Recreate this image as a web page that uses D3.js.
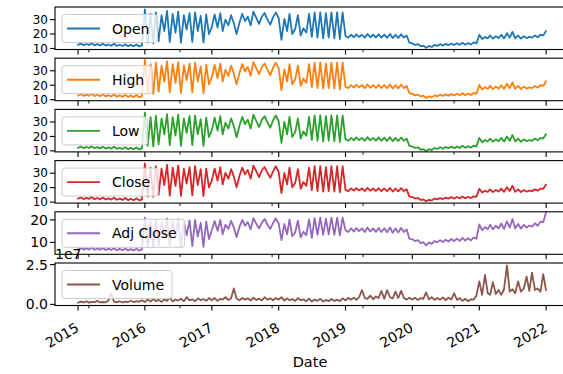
<!DOCTYPE html>
<html><head><meta charset="utf-8">
<script src="https://cdn.jsdelivr.net/npm/d3@7"></script>
<style>html,body{margin:0;padding:0;background:#fff;} svg{display:block;font-family:"DejaVu Sans",sans-serif;}</style>
</head><body><svg id="chart" width="563" height="374"></svg>
<script>
// ---- data (semi-monthly readings: 1st and 16th of each month, plus 2021-12-31) ----
const years = [2015, 2016, 2017, 2018, 2019, 2020, 2021];
const yearTicks = ["2015-01-01","2016-01-01","2017-01-01","2018-01-01","2019-01-01","2020-01-01","2021-01-01","2022-01-01"];
const yearLabels = ["2015","2016","2017","2018","2019","2020","2021","2022"];
const minorTicks = ["2015-03-01","2016-07-11","2017-11-26","2019-04-07","2020-08-16"];
const seriesNames = ["Open","High","Low","Close","Adj Close","Volume"];
const colors = ["#1f77b4","#ff7f0e","#2ca02c","#d62728","#9467bd","#8c564b"];

const open = [
12.6,13.4,12.3,13.1,12.4,13.7,12.2,13.0,12.1,13.3,12.0,12.8,11.9,13.2,11.8,12.6,11.7,13.0,11.6,12.5,11.5,12.8,11.4,12.1,
37.0,14.0,34.0,13.5,35.0,15.0,33.0,22.0,36.0,14.5,34.0,21.0,35.5,14.0,33.0,23.0,34.5,14.5,35.0,22.0,32.5,14.0,33.5,20.0,
25.0,33.5,24.5,34.5,22.0,30.0,26.0,33.0,27.5,20.0,28.0,34.0,29.0,32.0,26.0,35.5,31.0,27.0,32.0,34.5,30.0,26.5,31.5,35.0,
31.0,16.0,30.5,22.0,34.0,20.0,23.5,33.0,19.0,24.0,21.0,34.0,18.0,35.0,17.5,35.0,17.0,34.5,17.5,35.0,17.0,35.0,16.5,35.0,
18.5,17.5,19.5,17.8,19.8,18.0,19.5,17.5,20.0,17.8,19.5,17.6,19.8,17.5,19.6,17.4,20.0,17.2,19.5,17.3,19.8,17.5,19.0,14.0,
13.5,12.5,13.0,11.5,12.0,10.5,11.8,11.0,12.5,11.8,13.0,12.0,13.2,12.3,13.5,12.4,13.6,12.5,14.0,12.6,13.8,12.7,14.2,13.5,
19.5,16.5,18.0,17.0,19.0,16.8,18.5,17.2,19.5,17.0,20.5,17.5,21.5,17.0,19.0,16.8,18.5,17.2,18.0,17.5,19.0,17.8,19.5,19.0,22.0];
const high = [
12.9,13.8,12.6,13.5,12.7,14.1,12.5,13.4,12.4,13.7,12.3,13.2,12.2,13.6,12.1,13.0,12.0,13.4,11.9,12.9,11.8,13.2,11.7,12.5,
37.5,14.6,34.6,14.0,35.6,15.6,33.6,22.6,36.6,15.0,34.6,21.6,36.0,14.6,33.6,23.6,35.0,15.0,35.6,22.6,33.0,14.6,34.0,20.6,
25.6,34.0,25.0,35.0,22.6,30.6,26.6,33.6,28.0,20.6,28.6,34.6,29.6,32.6,26.6,36.0,31.6,27.6,32.6,35.0,30.6,27.0,32.0,35.6,
31.6,16.6,31.0,22.6,34.6,20.6,24.0,33.6,19.6,24.6,21.6,34.6,18.6,35.6,18.0,35.6,17.6,35.0,18.0,35.6,17.6,35.6,17.0,35.6,
19.0,18.0,20.0,18.3,20.3,18.5,20.0,18.0,20.5,18.3,20.0,18.1,20.3,18.0,20.1,17.9,20.5,17.7,20.0,17.8,20.3,18.0,19.5,14.5,
14.0,13.0,13.5,12.2,12.8,11.2,12.4,11.6,13.0,12.3,13.5,12.5,13.7,12.8,14.0,12.9,14.1,13.0,14.5,13.1,14.3,13.2,14.7,14.0,
20.2,17.0,18.6,17.5,19.6,17.3,19.0,17.7,20.0,17.5,21.0,18.0,22.0,17.5,19.5,17.3,19.0,17.7,18.5,18.0,19.5,18.3,20.0,19.5,22.6];
const low = [
12.2,13.0,11.9,12.7,12.0,13.2,11.8,12.6,11.7,12.9,11.6,12.4,11.5,12.8,11.4,12.2,11.3,12.6,11.2,12.1,11.1,12.4,11.0,11.7,
36.4,13.5,33.4,13.0,34.4,14.5,32.4,21.5,35.4,14.0,33.4,20.5,35.0,13.5,32.4,22.5,34.0,14.0,34.4,21.5,32.0,13.5,33.0,19.5,
24.5,33.0,24.0,34.0,21.5,29.5,25.5,32.5,27.0,19.5,27.5,33.5,28.5,31.5,25.5,35.0,30.5,26.5,31.5,34.0,29.5,26.0,31.0,34.5,
30.5,15.5,30.0,21.5,33.5,19.5,23.0,32.5,18.5,23.5,20.5,33.5,17.5,34.5,17.0,34.5,16.5,34.0,17.0,34.5,16.5,34.5,16.0,34.5,
18.0,17.0,19.0,17.3,19.3,17.5,19.0,17.0,19.5,17.3,19.0,17.1,19.3,17.0,19.1,16.9,19.5,16.7,19.0,16.8,19.3,17.0,18.5,13.5,
13.0,12.0,12.5,10.8,11.2,9.9,11.2,10.5,12.0,11.3,12.5,11.5,12.7,11.8,13.0,11.9,13.1,12.0,13.5,12.1,13.3,12.2,13.7,13.0,
19.0,16.0,17.5,16.5,18.5,16.3,18.0,16.7,19.0,16.5,20.0,17.0,21.0,16.5,18.5,16.3,18.0,16.7,17.5,17.0,18.5,17.3,19.0,18.5,21.5];
const close = [
12.4,13.2,12.1,12.9,12.2,13.5,12.0,12.8,11.9,13.1,11.8,12.6,11.7,13.0,11.6,12.4,11.5,12.8,11.4,12.3,11.3,12.6,11.2,11.9,
36.8,13.8,33.8,13.6,34.8,15.2,33.2,21.8,35.8,14.4,33.8,21.2,35.2,14.2,33.2,22.8,34.2,14.6,34.8,21.8,32.8,14.2,33.2,20.2,
25.2,33.2,24.8,34.2,22.2,30.2,26.2,32.8,27.6,20.2,28.2,33.8,29.2,32.2,26.2,35.2,31.2,27.2,32.2,34.2,30.2,26.8,31.2,34.8,
30.8,16.2,30.2,22.2,33.8,20.2,23.2,32.8,19.2,23.8,21.2,33.8,18.2,34.8,17.6,34.8,17.2,34.2,17.6,34.8,17.2,34.8,16.8,34.8,
18.4,17.6,19.4,17.9,19.6,18.1,19.4,17.6,19.8,17.9,19.4,17.7,19.6,17.6,19.5,17.5,19.8,17.3,19.4,17.4,19.6,17.6,18.8,13.8,
13.4,12.6,12.8,11.4,11.8,10.6,11.6,11.1,12.4,11.9,12.8,12.1,13.1,12.4,13.4,12.5,13.5,12.6,13.8,12.7,13.7,12.8,14.0,13.6,
19.2,16.6,17.8,17.1,18.8,16.9,18.4,17.3,19.3,17.1,20.3,17.6,21.3,17.1,18.8,16.9,18.3,17.3,17.9,17.6,18.8,17.9,19.3,19.2,22.0];
const adjClose = [
6.9,7.5,6.8,7.4,6.8,7.7,6.7,7.3,6.7,7.5,6.6,7.2,6.6,7.4,6.5,7.1,6.5,7.3,6.4,7.0,6.4,7.2,6.3,6.9,
21.0,8.0,19.5,7.8,20.0,8.6,19.0,12.6,20.6,8.3,19.5,12.0,20.2,8.0,19.0,13.2,19.8,8.3,20.0,12.6,18.7,8.0,19.2,11.5,
15.5,19.5,15.2,20.0,13.6,17.8,16.0,19.6,16.6,12.4,17.0,20.0,17.4,19.0,15.8,20.8,18.2,16.2,18.8,20.4,17.8,16.0,18.6,20.6,
18.4,11.0,18.2,13.6,20.2,12.7,14.4,19.7,12.2,14.7,13.2,20.2,12.0,20.8,13.4,21.0,13.3,20.6,13.6,21.0,13.3,21.0,13.0,21.0,
15.4,14.6,16.2,14.8,16.4,15.0,16.2,14.6,16.6,14.8,16.2,14.7,16.4,14.6,16.3,14.5,16.6,14.3,16.2,14.4,16.4,14.6,15.8,11.6,
11.4,10.6,11.0,9.6,10.1,8.6,10.0,9.3,10.6,10.0,11.0,10.2,11.2,10.4,11.5,10.6,11.6,10.7,12.0,10.8,11.8,10.9,12.2,11.6,
18.0,15.4,16.8,15.9,17.8,15.8,17.4,16.2,18.4,16.0,19.4,16.6,20.4,16.2,18.2,16.1,17.8,16.6,17.5,17.0,18.5,17.4,19.2,19.0,23.2];
const volume = [
1.0e6,1.8e6,1.2e6,2.0e6,1.1e6,1.6e6,1.4e6,2.2e6,1.2e6,1.5e6,1.3e6,2.5e6,7.0e6,1.8e6,1.3e6,2.0e6,1.2e6,1.7e6,1.5e6,2.3e6,1.4e6,2.0e6,1.6e6,2.6e6,
1.5e6,3.0e6,1.8e6,3.5e6,2.0e6,2.8e6,1.6e6,3.2e6,2.2e6,4.2e6,1.8e6,3.0e6,2.4e6,3.6e6,2.0e6,4.5e6,2.5e6,3.2e6,2.0e6,3.8e6,2.6e6,3.4e6,2.2e6,4.0e6,
2.5e6,4.0e6,2.2e6,3.5e6,3.0e6,4.5e6,2.8e6,3.8e6,10.0e6,3.5e6,2.6e6,4.0e6,3.0e6,3.8e6,2.4e6,4.2e6,2.8e6,3.6e6,2.5e6,4.5e6,3.0e6,3.8e6,2.6e6,4.0e6,
3.0e6,4.5e6,2.4e6,3.8e6,2.6e6,3.4e6,2.2e6,4.0e6,2.5e6,3.2e6,2.0e6,3.6e6,1.8e6,3.0e6,2.2e6,3.5e6,1.8e6,2.8e6,2.0e6,3.4e6,2.2e6,3.0e6,2.0e6,3.8e6,
2.5e6,4.0e6,3.0e6,4.2e6,2.8e6,4.5e6,9.0e6,4.0e6,3.5e6,5.5e6,3.2e6,5.0e6,4.0e6,8.5e6,3.5e6,9.0e6,4.5e6,3.8e6,8.0e6,4.0e6,8.5e6,4.0e6,3.0e6,4.2e6,
3.0e6,4.2e6,2.8e6,4.0e6,3.5e6,7.5e6,3.2e6,4.5e6,2.8e6,4.0e6,3.0e6,4.4e6,2.6e6,4.2e6,3.0e6,7.0e6,2.8e6,4.0e6,2.2e6,3.5e6,2.0e6,3.2e6,3.0e6,5.5e6,
14.5e6,6.0e6,18.5e6,7.0e6,6.0e6,14.0e6,6.5e6,9.0e6,6.0e6,9.5e6,24.5e6,8.0e6,9.5e6,7.0e6,14.5e6,8.0e6,10.0e6,17.5e6,8.5e6,20.0e6,9.0e6,10.0e6,8.0e6,19.0e6,9.0e6];

const seriesValues = [open, high, low, close, adjClose, volume];
const yTickValues = [[10,20,30],[10,20,30],[10,20,30],[10,20,30],[10,20],[0,2.5e7]];
const yTickLabels = [["10","20","30"],["10","20","30"],["10","20","30"],["10","20","30"],["10","20"],["0.0","2.5"]];
const yDomains = [[9.3,38.7],[9.3,38.7],[9.3,38.7],[9.3,38.7],[4.7,23.6],[-0.07e7,2.6e7]];

// x categories: 1st and 16th of each month, plus the last day
const dates = [];
years.forEach(y => { for (let m = 0; m < 12; m++) { dates.push(new Date(Date.UTC(y, m, 1))); dates.push(new Date(Date.UTC(y, m, 16))); } });
dates.push(new Date(Date.UTC(2021, 11, 31)));

// ---- layout ----
const svg = d3.select("#chart");
const left = 55, right = 565, top0 = 7, step = 51.2, ph = 42.5;
const parse = d3.utcParse("%Y-%m-%d");
const x = d3.scaleUtc().domain([parse("2014-08-28"), parse("2022-04-14")]).range([left, right]);
const fs = 14;

seriesNames.forEach((name, i) => {
  const top = top0 + i * step, bottom = top + ph;
  const y = d3.scaleLinear().domain(yDomains[i]).range([bottom, top]);
  const g = svg.append("g");
  g.append("clipPath").attr("id", "clip" + i).append("rect")
    .attr("x", left).attr("y", top).attr("width", right - left).attr("height", ph);
  const line = d3.line().x((d, k) => x(dates[k])).y(d => y(d));
  g.append("path").datum(seriesValues[i]).attr("clip-path", `url(#clip${i})`)
    .attr("d", line).attr("fill", "none").attr("stroke", colors[i])
    .attr("stroke-width", 1.8).attr("stroke-linejoin", "round").attr("stroke-linecap", "square");
  // spines
  g.append("rect").attr("x", left).attr("y", top).attr("width", right - left).attr("height", ph)
    .attr("fill", "none").attr("stroke", "#000").attr("stroke-width", 1.1);
  // y ticks
  const tfs = yTickValues[i].length > 2 ? 12 : fs;
  yTickValues[i].forEach((v, k) => {
    const yy = y(v);
    g.append("line").attr("x1", left - 5).attr("x2", left).attr("y1", yy).attr("y2", yy)
      .attr("stroke", "#000").attr("stroke-width", 1.1);
    g.append("text").attr("x", left - 7).attr("y", yy).attr("dy", "0.36em")
      .attr("text-anchor", "end").attr("font-size", tfs).attr("fill", "#000").text(yTickLabels[i][k]);
  });
  // x ticks
  yearTicks.forEach(t => {
    const xx = x(parse(t));
    g.append("line").attr("x1", xx).attr("x2", xx).attr("y1", bottom).attr("y2", bottom + 5)
      .attr("stroke", "#000").attr("stroke-width", 1.1);
  });
  minorTicks.forEach(t => {
    const xx = x(parse(t));
    g.append("line").attr("x1", xx).attr("x2", xx).attr("y1", bottom).attr("y2", bottom + 2.8)
      .attr("stroke", "#000").attr("stroke-width", 0.9);
  });
  // legend
  const lg = g.append("g").attr("transform", `translate(62,${top + 7.5})`);
  const box = lg.append("rect").attr("x", 0).attr("y", 0).attr("height", 28).attr("rx", 3)
    .attr("fill", "#fff").attr("fill-opacity", 0.8).attr("stroke", "#cccccc").attr("stroke-width", 1);
  lg.append("line").attr("x1", 5).attr("x2", 38).attr("y1", 14).attr("y2", 14)
    .attr("stroke", colors[i]).attr("stroke-width", 1.9);
  const tx = lg.append("text").attr("x", 50).attr("y", 14).attr("dy", "0.36em")
    .attr("font-size", fs).attr("fill", "#000").text(name);
  const w = tx.node().getComputedTextLength();
  box.attr("width", 50 + w + 8);

  if (i === seriesNames.length - 1) {
    svg.append("text").attr("x", left).attr("y", top - 4.5).attr("font-size", fs).attr("fill", "#000").text("1e7");
    yearTicks.forEach((t, k) => {
      const xx = x(parse(t)) + 2, yy = bottom + 25;
      svg.append("text").attr("transform", `translate(${xx},${yy}) rotate(-30)`)
        .attr("text-anchor", "end").attr("font-size", fs).attr("fill", "#000").text(yearLabels[k]);
    });
    svg.append("text").attr("x", (left + right) / 2).attr("y", 367).attr("text-anchor", "middle")
      .attr("font-size", 14.5).attr("fill", "#000").text("Date");
  }
});
</script></body></html>
